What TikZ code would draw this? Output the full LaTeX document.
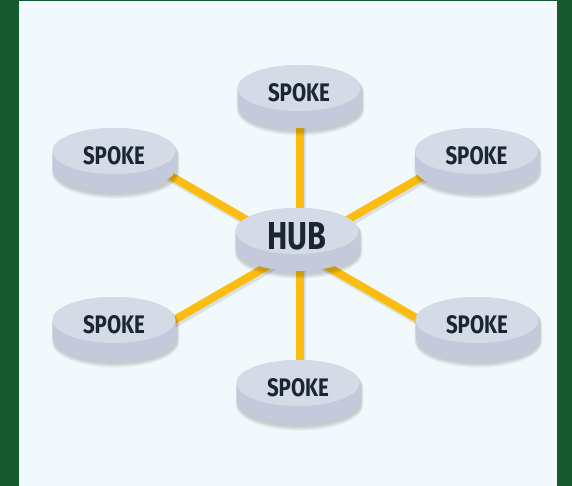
\documentclass[tikz,border=0pt]{standalone}
\usepackage{fontspec}
\setmainfont{Fira Sans}
\usepackage{graphicx}
\definecolor{bggreen}{HTML}{185A2F}
\definecolor{panelbg}{HTML}{F2F9FD}
\definecolor{wireyellow}{HTML}{FDBD10}
\definecolor{cyltop}{HTML}{D5DAE7}
\definecolor{cylside}{HTML}{C4CADB}
\definecolor{ink}{HTML}{1B2633}
\tikzset{
  link/.style={line width=8pt, draw=wireyellow},
  linkshadow/.style={line width=8pt, draw=black, opacity=0.10},
  cyllabel/.style={text=ink, inner sep=0pt, font=\bfseries},
}
% #1 name, #2 cx, #3 cy (pixels, downwards), #4 label
\newcommand\drawcyl[4]{%
  \foreach \s in {1,...,6}{%
    \fill[black,opacity=0.03] (#2+1.5-61.5-\s*0.4,-#3-3-\s*0.3) arc[start angle=180,end angle=0,x radius=61.5+\s*0.4,y radius=23+\s*0.5] -- ++(0,-17) arc[start angle=0,end angle=-180,x radius=61.5+\s*0.4,y radius=23+\s*0.5] -- cycle;
  }
  \fill[cylside] (#2-61.5,-#3) arc[start angle=180,end angle=0,x radius=61.5,y radius=23] -- ++(0,-17) arc[start angle=0,end angle=-180,x radius=61.5,y radius=23] -- cycle;
  \fill[cyltop] (#2,-#3) ellipse[x radius=61.5,y radius=23];
  \node[cyllabel] (#1) at (#2,-#3-5) {#4};
}
\begin{document}
\begin{tikzpicture}[x=1pt,y=1pt]
\useasboundingbox (0,0) rectangle (572,-486);
\fill[bggreen] (0,0) rectangle (572,-486);
\fill[panelbg] (19,-1) rectangle (557,-486);
% connection points
\coordinate (hubc) at (297,-249);
\coordinate (hubv) at (300,-249);
\coordinate (ulc) at (124,-149);
\coordinate (urc) at (470,-149);
\coordinate (llc) at (124,-349);
\coordinate (lrc) at (470,-349);
\coordinate (topc) at (300,-95);
\coordinate (botc) at (300,-390);
% connector shadows
\foreach \e in {ulc,urc,llc,lrc}{\draw[linkshadow] ([shift={(1.5,-3)}]hubc) -- ([shift={(1.5,-3)}]\e);}
\foreach \e in {topc,botc}{\draw[linkshadow] ([shift={(1.5,-3)}]hubv) -- ([shift={(1.5,-3)}]\e);}
% connectors
\foreach \e in {ulc,urc,llc,lrc}{\draw[link] (hubc) -- (\e);}
\foreach \e in {topc,botc}{\draw[link] (hubv) -- (\e);}
% cylinders
\drawcyl{top}{299}{88}{\resizebox{62pt}{18pt}{SPOKE}}
\drawcyl{ul}{114}{151}{\resizebox{62pt}{18pt}{SPOKE}}
\drawcyl{ur}{476.5}{151}{\resizebox{62pt}{18pt}{SPOKE}}
\drawcyl{ll}{114}{320}{\resizebox{62pt}{18pt}{SPOKE}}
\drawcyl{lr}{477}{320}{\resizebox{62pt}{18pt}{SPOKE}}
\drawcyl{bot}{298}{383}{\resizebox{62pt}{18pt}{SPOKE}}
\drawcyl{hub}{297}{231}{\resizebox{59pt}{27pt}{HUB}}
\end{tikzpicture}
\end{document}
